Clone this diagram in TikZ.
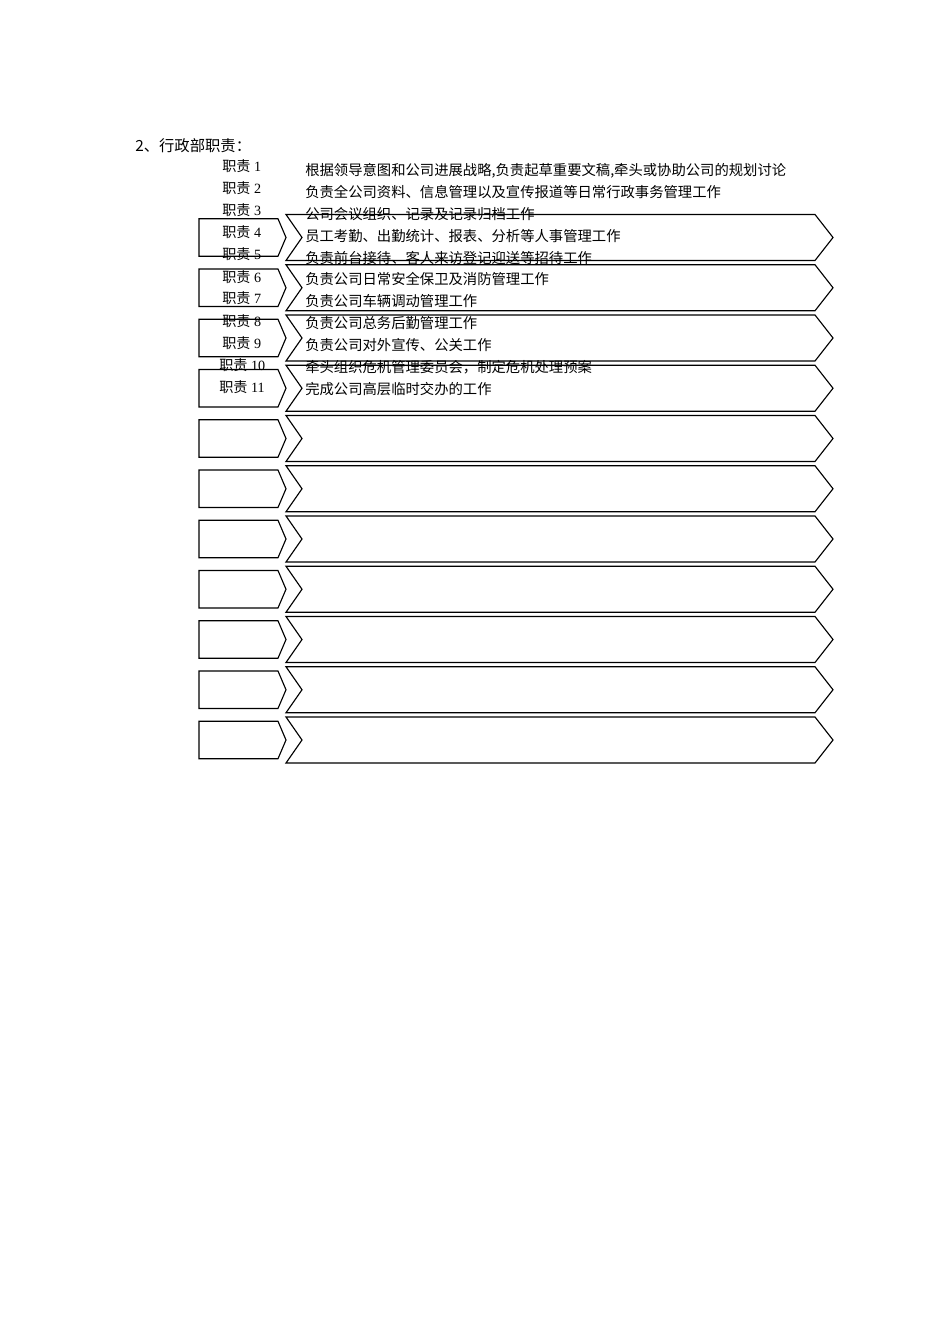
\documentclass[tikz,border=0pt]{standalone}
\usepackage{fontspec}
\setmainfont{Liberation Serif}
\newfontfamily\cjk{Noto Sans CJK SC}
\begin{document}
\begin{tikzpicture}[x=0.75pt,y=-0.75pt,
  rowbox/.style={draw=black,line width=0.85pt,line join=miter},
  lab/.style={anchor=base west,inner sep=0pt,font=\fontsize{10.6}{12}\selectfont},
  duty/.style={anchor=base west,inner sep=0pt,font=\cjk\fontsize{10.75}{12}\selectfont},
  headline/.style={anchor=base west,inner sep=0pt,font=\cjk\fontsize{11.5}{13}\selectfont}]
\useasboundingbox (0,0) rectangle (950,1344);
% shapes
\foreach \i in {0,...,10} {
  \pgfmathsetmacro\cy{237.5+50.25*\i}
  \draw[rowbox] (199,\cy-18.7) -- (278,\cy-18.7) -- (286,\cy) -- (278,\cy+18.7) -- (199,\cy+18.7) -- cycle;
  \draw[rowbox] (286,\cy-23) -- (815,\cy-23) -- (833,\cy) -- (815,\cy+23) -- (286,\cy+23) -- (302,\cy) -- cycle;
}
% title
\node[headline] (title) at (135,151.3) {2、行政部职责：};
% labels
\node[lab] (l1) at (222,172.0) {{\cjk 职责} 1};
\node[lab] (l2) at (222,194.0) {{\cjk 职责} 2};
\node[lab] (l3) at (222,216.0) {{\cjk 职责} 3};
\node[lab] (l4) at (222,238.0) {{\cjk 职责} 4};
\node[lab] (l5) at (222,260.0) {{\cjk 职责} 5};
\node[lab] (l6) at (222,282.0) {{\cjk 职责} 6};
\node[lab] (l7) at (222,304.0) {{\cjk 职责} 7};
\node[lab] (l8) at (222,326.0) {{\cjk 职责} 8};
\node[lab] (l9) at (222,348.0) {{\cjk 职责} 9};
\node[lab] (l10) at (219,370.3) {{\cjk 职责} 10};
\node[lab] (l11) at (219,392.3) {{\cjk 职责} 11};
% duties
\node[duty] (d1) at (305,176.0) {根据领导意图和公司进展战略,负责起草重要文稿,牵头或协助公司的规划讨论};
\node[duty] (d2) at (305,197.8) {负责全公司资料、信息管理以及宣传报道等日常行政事务管理工作};
\node[duty] (d3) at (305,219.6) {公司会议组织、记录及记录归档工作};
\node[duty] (d4) at (305,241.4) {员工考勤、出勤统计、报表、分析等人事管理工作};
\node[duty] (d5) at (305,263.2) {负责前台接待、客人来访登记迎送等招待工作};
\node[duty] (d6) at (305,285.0) {负责公司日常安全保卫及消防管理工作};
\node[duty] (d7) at (305,306.8) {负责公司车辆调动管理工作};
\node[duty] (d8) at (305,328.6) {负责公司总务后勤管理工作};
\node[duty] (d9) at (305,350.4) {负责公司对外宣传、公关工作};
\node[duty] (d10) at (305,372.2) {牵头组织危机管理委员会，制定危机处理预案};
\node[duty] (d11) at (305,394.0) {完成公司高层临时交办的工作};
\end{tikzpicture}
\end{document}
